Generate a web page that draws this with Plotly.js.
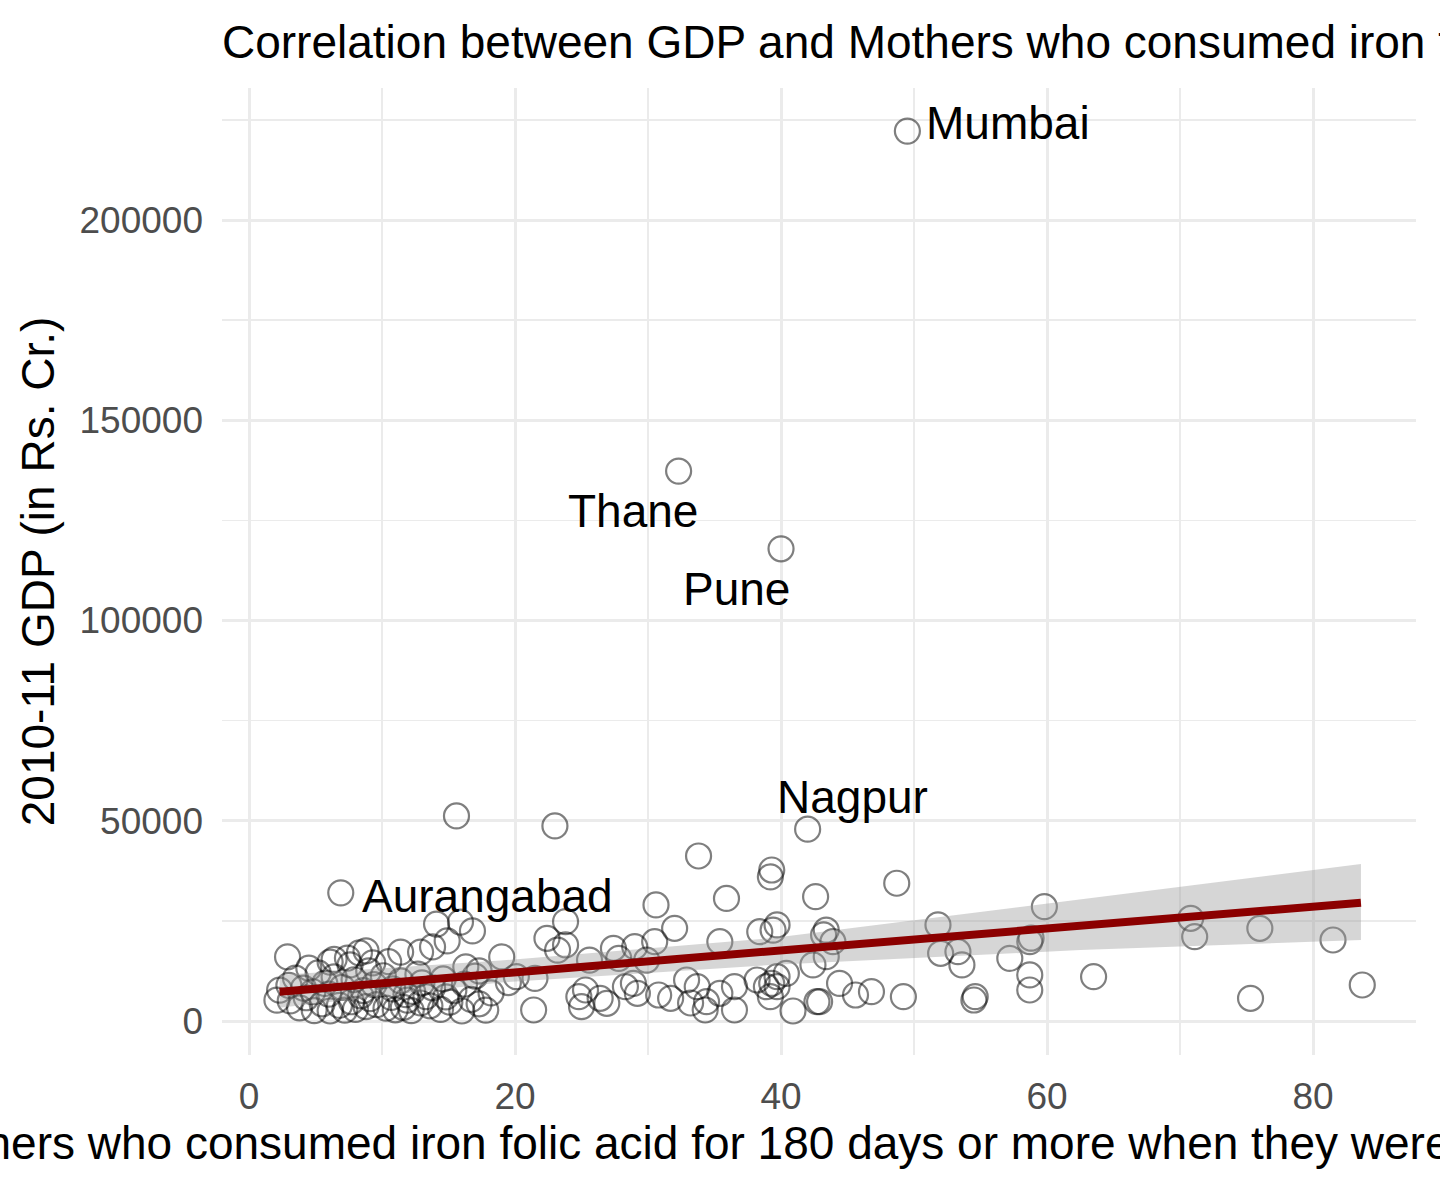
<!DOCTYPE html>
<html>
<head>
<meta charset="utf-8">
<script src="https://cdn.plot.ly/plotly-3.0.1.min.js"></script>
<style>
  html, body { margin: 0; padding: 0; background: #ffffff; }
  #graph { width: 1440px; height: 1195px; }
</style>
</head>
<body>
<div id="graph"></div>
<script>
// district values: % mothers taking IFA 180+ days vs 2010-11 GDP (Rs. Cr.)
var ifaPct = [
  49.5, 32.3, 40.0, 15.6, 23.0, 42.0, 33.8, 39.3, 39.2, 48.7, 6.9, 42.6, 35.9, 30.6,
  23.8, 22.4, 23.8, 23.2, 32.0, 30.5, 27.4, 29.0, 35.4, 38.4, 39.4, 25.6, 27.8, 29.9,
  21.5, 21.4, 24.8, 25.3, 26.4, 26.9, 25.0, 28.9, 29.2, 30.8, 31.7, 32.9, 33.7, 34.4,
  34.3, 35.4, 36.5, 36.5, 38.2, 38.9, 33.2, 20.1, 28.3,
  39.7, 43.4, 43.9, 43.2, 51.8, 52.0, 53.3, 53.6, 57.2, 58.7, 58.8, 59.8, 58.7, 58.7,
  63.5, 54.6, 54.5, 49.2, 46.8, 45.6, 42.9, 40.9, 39.7, 39.7, 40.4, 42.4, 43.4, 44.4,
  42.7, 39.2, 39.3,
  70.8, 71.1, 76.0, 75.3, 81.5, 83.7,
  2.1, 3.1, 3.8, 4.9, 6.1, 7.2, 8.0, 8.8, 9.6, 10.3, 11.0, 11.6, 12.2, 12.9, 13.6, 14.4,
  15.1, 16.0, 16.7, 17.3, 5.5, 6.8, 7.7, 9.1, 10.7, 11.9, 13.3, 14.8, 4.3, 8.4,
  2.3, 3.5, 4.1, 4.8, 5.7, 6.4, 7.0, 7.9, 8.6, 9.4, 10.1, 10.8, 11.4, 12.3, 13.0, 13.8,
  14.6, 15.4, 16.2, 17.0, 5.2, 9.0, 12.7, 3.0, 6.0, 11.8,
  2.9, 6.1, 6.4, 7.4, 8.3, 8.8, 9.3, 7.6, 10.5, 11.4, 12.9, 13.8, 14.9, 16.3, 17.3, 19.0, 4.5,
  14.1, 15.9, 16.8, 18.2, 19.5, 17.8
];
var gdpCr = [
  222200, 137300, 117900, 51200, 48700, 47900, 41200, 37700, 36000, 34400, 32000, 31050, 30600, 28970,
  24800, 20650, 19000, 17700, 23150, 19800, 18150, 18550, 19800, 22300, 22700, 15200, 15650, 15200,
  10650, 2750, 6070, 7740, 5670, 4420, 3570, 9400, 6920, 6490, 5670, 10240, 8560, 4820,
  2750, 6920, 8560, 2750, 10240, 8560, 4500, 11060, 8560,
  24000, 22700, 19800, 21500, 24000, 16900, 17300, 14000, 15650, 19800, 20700, 28540, 11500, 7740,
  11060, 6070, 5240, 6070, 7320, 6490, 4820, 2500, 8560, 11060, 11900, 14000, 16050, 9400,
  4820, 6070, 9400,
  25640, 21050, 23150, 5670, 20230, 8990,
  5200, 5000, 3300, 2600, 2500, 2700, 2900, 3600, 4100, 3200, 2800, 3400, 2600, 4500, 3800, 2900,
  4700, 2500, 5400, 4300, 4300, 3900, 4800, 5600, 5900, 5200, 6100, 6000, 5800, 6300,
  7700, 10700, 8200, 7300, 9400, 11000, 8400, 10300, 7600, 9100, 11300, 8000, 10000, 7400, 9500, 8300,
  10500, 7600, 9200, 11200, 12000, 12500, 11700, 8900, 6700, 6600,
  16000, 14700, 15400, 15700, 17000, 17500, 14500, 14000, 14800, 17200, 17200, 18500, 20000, 13500, 12500, 16000, 13200,
  24200, 24700, 22500, 7000, 9600, 2700
];

// linear fit and its 95% band
var fitX = [2.3, 83.6];
var fitY = [7300, 29540];
var bandX = [2.3, 18.9, 39.2, 62.5, 83.6];
var bandUpper = [11500, 15100, 20650, 30400, 39200];
var bandLower = [3300, 9600, 13980, 17700, 20200];

// labelled districts
var labelNames = ['Mumbai', 'Thane', 'Pune', 'Nagpur', 'Aurangabad'];
var labelX = [57.1, 28.9, 36.65, 45.4, 17.9];
var labelY = [224200, 127350, 107870, 55930, 31210];

var xTitle = 'Mothers who consumed iron folic acid for 180 days or more when they were pregnant (%)';
var plotTitle = 'Correlation between GDP and Mothers who consumed iron folic acid for 180 days or more';

var fontFam = '"Liberation Sans", Arial, Helvetica, sans-serif';

var points = {
  x: ifaPct,
  y: gdpCr,
  type: 'scatter',
  mode: 'markers',
  marker: {
    symbol: 'circle-open',
    size: 25,
    color: 'rgba(0,0,0,0.5)',
    line: { width: 2.2, color: 'rgba(0,0,0,0.5)' }
  },
  hoverinfo: 'x+y',
  showlegend: false
};

var band = {
  x: bandX.concat(bandX.slice().reverse()),
  y: bandUpper.concat(bandLower.slice().reverse()),
  type: 'scatter',
  mode: 'lines',
  fill: 'toself',
  fillcolor: 'rgba(153,153,153,0.4)',
  line: { width: 0 },
  hoverinfo: 'skip',
  showlegend: false
};

var fitLine = {
  x: fitX,
  y: fitY,
  type: 'scatter',
  mode: 'lines',
  line: { color: '#8b0000', width: 8 },
  showlegend: false
};

var notes = labelNames.map(function (name, i) {
  return {
    x: labelX[i], y: labelY[i], text: name,
    showarrow: false, xanchor: 'center', yanchor: 'middle',
    font: { family: fontFam, size: 46, color: '#000000' }
  };
});

var layout = {
  width: 1440,
  height: 1195,
  paper_bgcolor: '#ffffff',
  plot_bgcolor: '#ffffff',
  font: { family: fontFam },
  margin: { l: 222, r: 24, t: 88, b: 140, pad: 0 },
  title: {
    text: plotTitle,
    x: 0, xref: 'paper', xanchor: 'left',
    y: 0.965, yref: 'container', yanchor: 'middle',
    font: { family: fontFam, size: 46, color: '#000000' }
  },
  xaxis: {
    range: [-2.03, 87.74],
    tickmode: 'array',
    tickvals: [0, 20, 40, 60, 80],
    ticktext: ['0', '20', '40', '60', '80'],
    showgrid: true,
    gridcolor: '#ebebeb',
    gridwidth: 3,
    minor: { tickmode: 'array', tickvals: [10, 30, 50, 70], showgrid: true, gridcolor: '#ebebeb', gridwidth: 1.5 },
    zeroline: false,
    showline: false,
    ticks: '',
    ticklabelstandoff: 16,
    tickfont: { family: fontFam, size: 37, color: '#4d4d4d' },
    title: { text: xTitle, standoff: 8, font: { family: fontFam, size: 46, color: '#000000' } },
    automargin: false
  },
  yaxis: {
    range: [-8490, 232960],
    tickmode: 'array',
    tickvals: [0, 50000, 100000, 150000, 200000],
    ticktext: ['0', '50000', '100000', '150000', '200000'],
    showgrid: true,
    gridcolor: '#ebebeb',
    gridwidth: 3,
    minor: { tickmode: 'array', tickvals: [25000, 75000, 125000, 175000, 225000], showgrid: true, gridcolor: '#ebebeb', gridwidth: 1.5 },
    zeroline: false,
    showline: false,
    ticks: '',
    ticklabelstandoff: 18,
    tickfont: { family: fontFam, size: 37, color: '#4d4d4d' },
    title: { text: '2010-11 GDP (in Rs. Cr.)', standoff: 10, font: { family: fontFam, size: 46, color: '#000000' } },
    automargin: false
  },
  annotations: notes
};

Plotly.newPlot('graph', [points, band, fitLine], layout, { displayModeBar: false, staticPlot: true });
</script>
</body>
</html>
